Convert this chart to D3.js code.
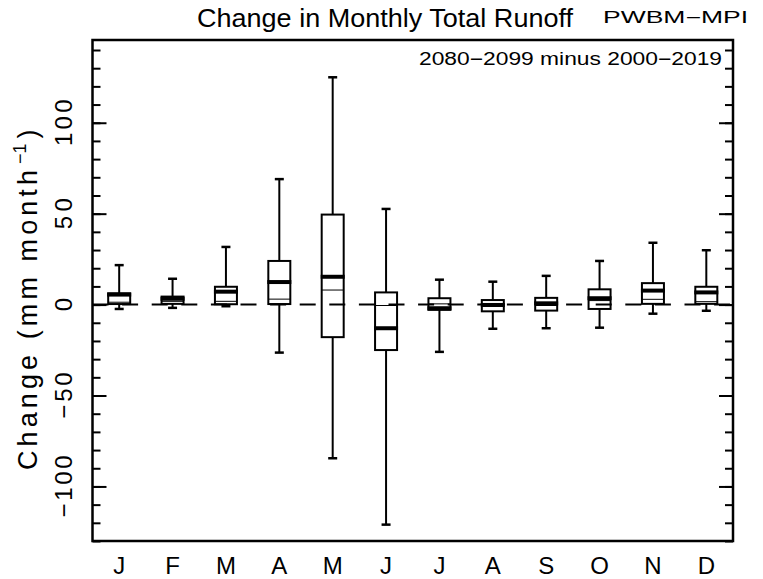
<!DOCTYPE html>
<html><head><meta charset="utf-8">
<script src="https://cdn.jsdelivr.net/npm/d3@7"></script>
<style>
body{margin:0;background:#fff;}
svg text{font-family:"Liberation Sans","DejaVu Sans",sans-serif;fill:#000;}
</style></head>
<body>
<svg id="c" width="763" height="579"></svg>
<script>
const months = ["J","F","M","A","M","J","J","A","S","O","N","D"];
const whiskerHigh = [21.7, 14.2, 31.7, 69, 125, 52.6, 13.7, 12.6, 15.8, 24, 34, 29.9];
const q3 = [6.2, 4.4, 9.8, 24, 49.5, 6.7, 3.5, 2.5, 3.7, 8.4, 11.8, 9.8];
const medianV = [5.5, 3.2, 7.1, 12.4, 15.3, -13, -2, -0.2, 0.7, 3.5, 7.7, 6.7];
const meanV = [1.3, 1.8, 1.8, 3, 8, -0.5, 0.4, -1, -0.5, 2.2, 2.9, 1.6];
const q1 = [0.3, 0.4, 0.2, 0.3, -17.9, -25, -2.9, -3.7, -3.3, -2.4, 0.4, 0.4];
const whiskerLow = [-2.4, -1.8, -0.9, -26.4, -84.5, -121, -26, -13.3, -13, -12.7, -5, -3.4];
const majorTicks = [-100, -50, 0, 50, 100];
const minorTicks = d3.range(-130, 146, 10);

const svg = d3.select("#c");
const L = 92.5, R = 733, T = 40, B = 541;
const idx = d3.range(months.length);
const x = d3.scaleLinear().domain([0.5, 12.5]).range([L, R]);
const y = d3.scaleLinear().domain([-130, 145.5]).range([B, T]);

function ticks(gen, tx, vals, size) {
  svg.append("g").attr("transform", `translate(${tx},0)`)
    .call(gen(y).tickValues(vals).tickSize(size).tickFormat(""))
    .call(g => g.select(".domain").remove())
    .selectAll("line").attr("stroke", "#000").attr("stroke-width", 2);
}
ticks(d3.axisLeft, L, minorTicks, -8);
ticks(d3.axisLeft, L, majorTicks, -14);
ticks(d3.axisRight, R, minorTicks, -8);
ticks(d3.axisRight, R, majorTicks, -14);

// frame
svg.append("rect").attr("x", L).attr("y", T).attr("width", R - L).attr("height", B - T)
  .attr("fill", "none").attr("stroke", "#000").attr("stroke-width", 2.5);

// y tick labels (rotated)
const fmt = d => d < 0 ? "\u2212" + Math.abs(d) : String(d);
svg.append("g").selectAll("text").data(majorTicks).join("text")
  .attr("transform", d => `translate(72,${y(d)}) rotate(-90)`)
  .attr("text-anchor", "middle")
  .attr("font-size", 24)
  .attr("textLength", d => fmt(d).length * 15.5)
  .attr("lengthAdjust", "spacing")
  .text(fmt);

// y axis label
const yl = svg.append("text")
  .attr("transform", `translate(37,470) rotate(-90)`)
  .attr("font-size", 27);
yl.append("tspan").attr("textLength", 300).attr("lengthAdjust", "spacing").text("Change (mm month");
yl.append("tspan").attr("dy", -11).attr("dx", 2).attr("font-size", 18).text("\u22121");
yl.append("tspan").attr("dy", 11).attr("dx", 5).text(")");

// month labels
svg.append("g").selectAll("text").data(idx).join("text")
  .attr("x", i => x(i + 1)).attr("y", 574)
  .attr("text-anchor", "middle")
  .attr("font-size", 24)
  .attr("font-family", "'Liberation Sans Narrow','DejaVu Sans Condensed',sans-serif")
  .text(i => months[i]);

// titles
svg.append("text").attr("x", 197).attr("y", 27).attr("font-size", 26)
  .attr("textLength", 376).attr("lengthAdjust", "spacingAndGlyphs")
  .text("Change in Monthly Total Runoff");
svg.append("text").attr("x", 603).attr("y", 23).attr("font-size", 16)
  .attr("textLength", 145).attr("lengthAdjust", "spacingAndGlyphs")
  .text("PWBM\u2212MPI");
svg.append("text").attr("x", 722).attr("y", 65).attr("font-size", 18)
  .attr("text-anchor", "end")
  .attr("textLength", 303).attr("lengthAdjust", "spacingAndGlyphs")
  .text("2080\u22122099 minus 2000\u22122019");

// boxes
const bw = 22, cw = 9;
const g = svg.append("g").attr("stroke", "#000").attr("fill", "none");
idx.forEach(i => {
  const cx = x(i + 1);
  const gi = g.append("g");
  gi.append("line").attr("x1", cx).attr("x2", cx).attr("y1", y(q3[i])).attr("y2", y(whiskerHigh[i])).attr("stroke-width", 2);
  gi.append("line").attr("x1", cx).attr("x2", cx).attr("y1", y(q1[i])).attr("y2", y(whiskerLow[i])).attr("stroke-width", 2);
  gi.append("line").attr("x1", cx - cw / 2).attr("x2", cx + cw / 2).attr("y1", y(whiskerHigh[i])).attr("y2", y(whiskerHigh[i])).attr("stroke-width", 2.5);
  gi.append("line").attr("x1", cx - cw / 2).attr("x2", cx + cw / 2).attr("y1", y(whiskerLow[i])).attr("y2", y(whiskerLow[i])).attr("stroke-width", 2.5);
  gi.append("rect").attr("x", cx - bw / 2).attr("width", bw)
    .attr("y", y(q3[i])).attr("height", y(q1[i]) - y(q3[i])).attr("stroke-width", 2);
  gi.append("line").attr("x1", cx - bw / 2).attr("x2", cx + bw / 2).attr("y1", y(meanV[i])).attr("y2", y(meanV[i])).attr("stroke-width", 1);
  gi.append("line").attr("x1", cx - bw / 2 - 1).attr("x2", cx + bw / 2 + 1).attr("y1", y(medianV[i])).attr("y2", y(medianV[i])).attr("stroke-width", 4);
});

// zero dashed line
svg.append("line").attr("x1", L).attr("x2", R).attr("y1", y(0)).attr("y2", y(0))
  .attr("stroke", "#000").attr("stroke-width", 2).attr("stroke-dasharray", "16,13.6");
</script>
</body></html>
